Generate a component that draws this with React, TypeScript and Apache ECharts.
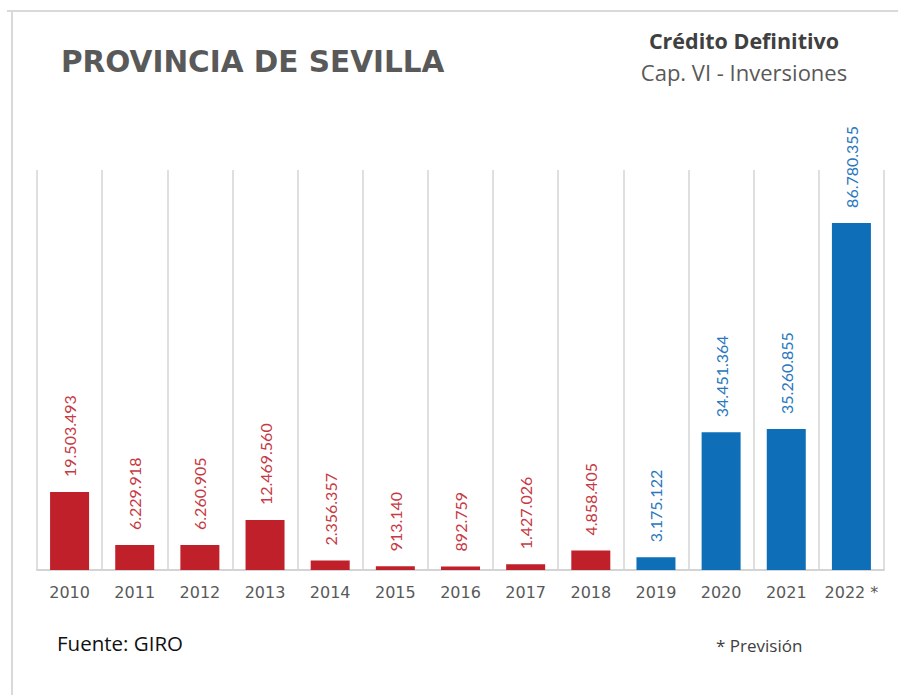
import React, { useEffect, useRef } from "react";
import * as echarts from "echarts";

const years = ["2010", "2011", "2012", "2013", "2014", "2015", "2016", "2017", "2018", "2019", "2020", "2021", "2022 *"];
const values = [19503493, 6229918, 6260905, 12469560, 2356357, 913140, 892759, 1427026, 4858405, 3175122, 34451364, 35260855, 86780355];
const blueFromIndex = 9;

const RED = "#C0202A";
const BLUE = "#0E6FB8";
const RED_LABEL = "#C63A45";
const BLUE_LABEL = "#2A77BD";

function fmt(v: number): string {
  const s = Math.round(v).toString();
  return s.replace(/\B(?=(\d{3})+(?!\d))/g, ".");
}

export default function App() {
  const ref = useRef<HTMLDivElement>(null);
  useEffect(() => {
    if (!ref.current) return;
    const chart = echarts.init(ref.current, undefined, { renderer: "svg" });
    chart.setOption({
      animation: false,
      backgroundColor: "#ffffff",
      grid: { left: 37, right: 14, top: 170, bottom: 125, containLabel: false },
      xAxis: {
        type: "category",
        data: years,
        boundaryGap: true,
        axisTick: { show: false },
        axisLine: { show: true, lineStyle: { color: "#d4d4d4", width: 2 } },
        splitLine: { show: true, interval: 0, lineStyle: { color: "#d4d4d4", width: 1.5 } },
        axisLabel: {
          interval: 0,
          margin: 14,
          color: "#595959",
          fontFamily: "DejaVu Sans",
          fontSize: 16,
        },
      },
      yAxis: {
        type: "value",
        min: 0,
        max: 100000000,
        show: false,
        splitLine: { show: false },
      },
      series: [
        {
          type: "bar",
          barWidth: 39,
          data: values.map((v, i) => ({
            value: v,
            itemStyle: { color: i >= blueFromIndex ? BLUE : RED },
            label: { color: i >= blueFromIndex ? BLUE_LABEL : RED_LABEL },
          })),
          label: {
            show: true,
            position: "top",
            rotate: 90,
            align: "left",
            verticalAlign: "middle",
            distance: 15,
            fontFamily: "Lato",
            fontSize: 16,
            formatter: (p: any) => fmt(p.value),
          },
        },
      ],
      graphic: [
        { type: "line", shape: { x1: 7, y1: 11, x2: 898, y2: 11 }, style: { stroke: "#d9d9d9", lineWidth: 2 } },
        { type: "line", shape: { x1: 12, y1: 11, x2: 12, y2: 695 }, style: { stroke: "#d9d9d9", lineWidth: 2 } },
        {
          type: "text",
          left: 61,
          top: 47,
          style: {
            text: "PROVINCIA DE SEVILLA",
            fontFamily: "DejaVu Sans",
            fontWeight: "bold",
            fontSize: 29.5,
            fill: "#595959",
          },
        },
        {
          type: "text",
          x: 744,
          y: 40,
          style: {
            text: "Crédito Definitivo",
            fontFamily: "Open Sans",
            fontWeight: "bold",
            fontSize: 21.5,
            fill: "#404040",
            align: "center",
            verticalAlign: "middle",
          },
        },
        {
          type: "text",
          x: 744,
          y: 72,
          style: {
            text: "Cap. VI - Inversiones",
            fontFamily: "Open Sans",
            fontSize: 22,
            fill: "#595959",
            align: "center",
            verticalAlign: "middle",
          },
        },
        {
          type: "text",
          x: 57,
          y: 643,
          style: {
            text: "Fuente: GIRO",
            fontFamily: "Open Sans",
            fontSize: 20.5,
            fill: "#111111",
            verticalAlign: "middle",
          },
        },
        {
          type: "text",
          x: 716,
          y: 645,
          style: {
            text: "* Previsión",
            fontFamily: "Open Sans",
            fontSize: 17,
            fill: "#404040",
            verticalAlign: "middle",
          },
        },
      ],
    });
    return () => chart.dispose();
  }, []);
  return <div ref={ref} style={{ position: "fixed", left: 0, top: 0, width: 898, height: 695 }} />;
}
